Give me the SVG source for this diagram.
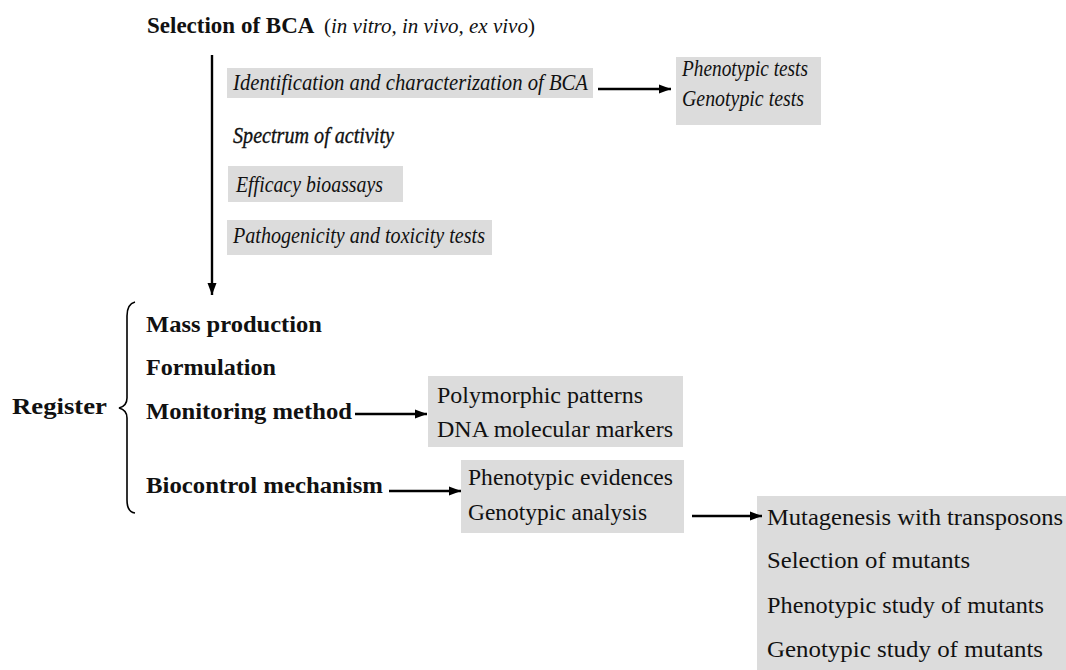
<svg xmlns="http://www.w3.org/2000/svg" width="1066" height="670" viewBox="0 0 1066 670">
<style>
text{font-family:"Liberation Serif","Times New Roman",serif;fill:#111}
.b{font-weight:bold;font-size:23px}
.i{font-style:italic;font-size:23px}
.n{font-size:24px}
.box{fill:#dcdcdc}
.ln{stroke:#000;stroke-width:2.4;fill:none}
</style>
<defs>
<marker id="ah" markerUnits="userSpaceOnUse" markerWidth="13" markerHeight="10" refX="12" refY="5" orient="auto">
<path d="M0,0.5 L12,5 L0,9.5 Z" fill="#000"/>
</marker>
</defs>
<rect width="1066" height="670" fill="#fff"/>

<g id="title">
<text class="b" x="147" y="33" font-size="25">Selection of BCA</text>
<text x="324" y="33" font-size="21">(<tspan font-style="italic">in vitro, in vivo, ex vivo</tspan>)</text>
</g>

<g id="identification">
<rect class="box" x="227" y="68" width="366" height="30"/>
<text class="i" x="233" y="90" textLength="355" lengthAdjust="spacingAndGlyphs">Identification and characterization of BCA</text>
</g>
<g id="tests">
<rect class="box" x="676" y="57" width="145" height="68"/>
<text class="i" x="682" y="76" textLength="126" lengthAdjust="spacingAndGlyphs">Phenotypic tests</text>
<text class="i" x="682" y="106" textLength="122" lengthAdjust="spacingAndGlyphs">Genotypic tests</text>
</g>
<g id="spectrum">
<text class="i" x="233" y="143" textLength="161" lengthAdjust="spacingAndGlyphs" style="stroke:#111;stroke-width:0.35">Spectrum of activity</text>
</g>
<g id="efficacy">
<rect class="box" x="228" y="166" width="175" height="36"/>
<text class="i" x="236" y="192" textLength="147" lengthAdjust="spacingAndGlyphs">Efficacy bioassays</text>
</g>
<g id="pathogenicity">
<rect class="box" x="227" y="220" width="265" height="35"/>
<text class="i" x="233" y="243" textLength="252" lengthAdjust="spacingAndGlyphs">Pathogenicity and toxicity tests</text>
</g>

<g id="register">
<text class="b" x="12" y="414" font-size="24" textLength="95" lengthAdjust="spacingAndGlyphs">Register</text>
<path class="ln" style="stroke-width:1.6" d="M135,302 Q127,304 127,316 L127,398 Q127,406 119,408 Q127,410 127,418 L127,500 Q127,512 135,513"/>
</g>
<g id="mass">
<text class="b" x="146" y="332" textLength="176" lengthAdjust="spacingAndGlyphs">Mass production</text>
</g>
<g id="formulation">
<text class="b" x="146" y="375" textLength="130" lengthAdjust="spacingAndGlyphs">Formulation</text>
</g>
<g id="monitoring">
<text class="b" x="146" y="419" textLength="206" lengthAdjust="spacingAndGlyphs">Monitoring method</text>
</g>
<g id="biocontrol">
<text class="b" x="146" y="493" textLength="237" lengthAdjust="spacingAndGlyphs">Biocontrol mechanism</text>
</g>

<g id="polymorphic">
<rect class="box" x="428" y="376" width="255" height="71"/>
<text class="n" x="437" y="403" textLength="206" lengthAdjust="spacingAndGlyphs">Polymorphic patterns</text>
<text class="n" x="437" y="437" textLength="236" lengthAdjust="spacingAndGlyphs">DNA molecular markers</text>
</g>
<g id="evidences">
<rect class="box" x="461" y="460" width="223" height="73"/>
<text class="n" x="468" y="485" textLength="205" lengthAdjust="spacingAndGlyphs">Phenotypic evidences</text>
<text class="n" x="468" y="520" textLength="179" lengthAdjust="spacingAndGlyphs">Genotypic analysis</text>
</g>
<g id="mutants">
<rect class="box" x="757" y="496" width="309" height="174"/>
<text class="n" x="767" y="525" textLength="296" lengthAdjust="spacingAndGlyphs">Mutagenesis with transposons</text>
<text class="n" x="767" y="568" textLength="203" lengthAdjust="spacingAndGlyphs">Selection of mutants</text>
<text class="n" x="767" y="613" textLength="277" lengthAdjust="spacingAndGlyphs">Phenotypic study of mutants</text>
<text class="n" x="767" y="657" textLength="276" lengthAdjust="spacingAndGlyphs">Genotypic study of mutants</text>
</g>

<g id="connectors">
<line class="ln" x1="212" y1="55" x2="212" y2="295" marker-end="url(#ah)"/>
<line class="ln" x1="598" y1="89" x2="671" y2="89" marker-end="url(#ah)"/>
<line class="ln" x1="355" y1="414" x2="427" y2="414" marker-end="url(#ah)"/>
<line class="ln" x1="389" y1="491" x2="461" y2="491" marker-end="url(#ah)"/>
<line class="ln" x1="692" y1="516" x2="762" y2="516" marker-end="url(#ah)"/>
</g>
</svg>
